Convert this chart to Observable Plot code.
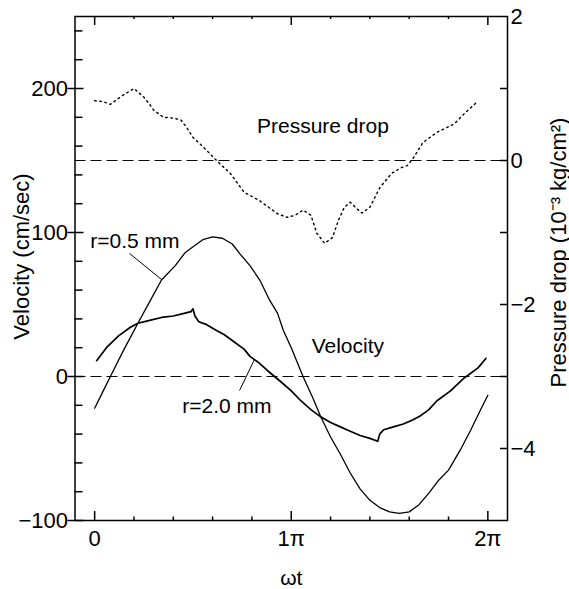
<!DOCTYPE html>
<html><head><meta charset="utf-8">
<script src="https://cdn.jsdelivr.net/npm/d3@7"></script>
<script src="https://cdn.jsdelivr.net/npm/@observablehq/plot@0.6"></script>
<style>
html,body{margin:0;padding:0;background:#fff;}
#chart{width:569px;height:589px;}
</style>
</head><body><div id="chart"></div>
<script>
// ωt in units of π
const t05 = [0, 0.04, 0.08, 0.15, 0.22, 0.28, 0.34, 0.41, 0.46, 0.49, 0.55, 0.60, 0.65, 0.70, 0.74, 0.79, 0.84, 0.89, 0.93, 0.96, 1.00, 1.06, 1.11, 1.15, 1.20, 1.25, 1.30, 1.35, 1.40, 1.45, 1.50, 1.55, 1.60, 1.65, 1.70, 1.75, 1.80, 1.86, 1.91, 1.96, 2.00];
const v05 = [-22, -11, 0, 19, 37, 52, 67, 77, 86, 89, 95, 97, 96, 92, 85, 77, 67, 53, 44, 32, 20, 0, -15, -28, -42, -54, -67, -78, -86, -91, -94, -95, -94, -89, -81, -72, -65, -51, -38, -24, -13];

const t20 = [0.01, 0.06, 0.12, 0.18, 0.22, 0.28, 0.34, 0.40, 0.46, 0.49, 0.50, 0.51, 0.53, 0.57, 0.62, 0.66, 0.71, 0.76, 0.79, 0.84, 0.88, 0.95, 1.00, 1.05, 1.10, 1.15, 1.20, 1.25, 1.30, 1.35, 1.40, 1.44, 1.45, 1.47, 1.52, 1.57, 1.62, 1.66, 1.70, 1.74, 1.81, 1.88, 1.95, 1.99];
const v20 = [11, 20, 28, 34, 37, 39, 41, 42, 44, 45, 47, 42, 38, 36, 32, 29, 24, 19, 14, 9, 4, -4, -10, -17, -23, -28, -32, -35, -38, -41, -43, -45, -40, -37, -35, -33, -30, -27, -23, -17, -10, -1, 6, 12.5];

const tP = [0.00, 0.04, 0.08, 0.14, 0.20, 0.25, 0.28, 0.30, 0.35, 0.40, 0.44, 0.47, 0.50, 0.54, 0.57, 0.62, 0.69, 0.76, 0.80, 0.84, 0.88, 0.93, 0.98, 1.02, 1.06, 1.10, 1.13, 1.17, 1.21, 1.24, 1.27, 1.30, 1.33, 1.36, 1.40, 1.45, 1.51, 1.56, 1.59, 1.62, 1.67, 1.74, 1.83, 1.88, 1.94];
const pDrop = [0.83, 0.82, 0.78, 0.90, 1.00, 0.88, 0.78, 0.70, 0.60, 0.59, 0.56, 0.45, 0.32, 0.22, 0.14, 0.00, -0.18, -0.44, -0.50, -0.56, -0.64, -0.74, -0.79, -0.76, -0.69, -0.76, -1.01, -1.15, -1.07, -0.83, -0.65, -0.58, -0.66, -0.73, -0.65, -0.38, -0.18, -0.10, -0.07, 0.03, 0.25, 0.39, 0.51, 0.65, 0.80];

const xTickValues = [0, 1, 2];
const xTickLabels = ["0", "1π", "2π"];
const xMinorTicks = [0.2, 0.4, 0.6, 0.8, 1.2, 1.4, 1.6, 1.8];
const vTickValues = [-100, 0, 100, 200];
const vMinorTicks = [-80, -60, -40, -20, 20, 40, 60, 80, 120, 140, 160, 180, 220, 240];
const pTickValues = [2, 0, -2, -4];
const pMinorTicks = [1, 0, -1, -2, -3, -4];

const annotations = [
  {x: 1.161, y: 174, text: "Pressure drop"},
  {x: 1.288, y: 21, text: "Velocity"},
  {x: 0.205, y: 94, text: "r=0.5 mm"},
  {x: 0.673, y: -21, text: "r=2.0 mm"}
];
const leaders = [
  {x1: 0.177, y1: 85.5, x2: 0.34, y2: 67.4},
  {x1: 0.737, y1: -9.7, x2: 0.813, y2: 11.8}
];

// secondary (pressure) axis mapped onto velocity units: p=0 -> 150, p=2 -> 250
const pToV = p => 150 + 50 * p;
const vToP = v => (v - 150) / 50;

const r05 = t05.map((t, i) => ({t, v: v05[i]}));
const r20 = t20.map((t, i) => ({t, v: v20[i]}));
const pres = tP.map((t, i) => ({t, v: pToV(pDrop[i])}));

const W = 569, H = 589;
const mL = 74.5, mR = 62, mT = 16, mB = 69;
const pw = W - mL - mR, ph = H - mT - mB;
const font = "'Liberation Sans', Arial, sans-serif";
const fmtInt = d3.format("d");
const tk = {stroke: "black", strokeWidth: 1.5};

const chart = Plot.plot({
  width: W, height: H,
  marginLeft: mL, marginRight: mR, marginTop: mT, marginBottom: mB,
  style: {fontFamily: font, background: "white", color: "black", overflow: "visible"},
  x: {domain: [-0.1, 2.1]},
  y: {domain: [-100, 250]},
  marks: [
    Plot.ruleY([0, pToV(0)], {stroke: "black", strokeWidth: 1.2, strokeDasharray: "11,5"}),
    Plot.line(pres, {x: "t", y: "v", stroke: "black", strokeWidth: 1.4, strokeDasharray: "1.6,3.6"}),
    Plot.line(r05, {x: "t", y: "v", stroke: "black", strokeWidth: 1.3}),
    Plot.line(r20, {x: "t", y: "v", stroke: "black", strokeWidth: 1.7}),
    Plot.link(leaders, {x1: "x1", y1: "y1", x2: "x2", y2: "y2", stroke: "black", strokeWidth: 1}),
    Plot.text(annotations, {x: "x", y: "y", text: "text", fontSize: 21, textAnchor: "middle", lineAnchor: "middle", fill: "black"}),
    Plot.frame({stroke: "black", strokeWidth: 1.5}),
    // left ticks (inward; labelled ones also poke out)
    Plot.tickY(vMinorTicks, {y: d => d, insetRight: pw - 8, ...tk}),
    Plot.tickY(vTickValues, {y: d => d, insetLeft: -7, insetRight: pw - 9, ...tk}),
    // right ticks (inward)
    Plot.tickY(pMinorTicks.map(pToV), {y: d => d, insetLeft: pw - 7, ...tk}),
    // bottom and top ticks (inward)
    Plot.tickX(xMinorTicks, {x: d => d, insetTop: ph - 3.5, ...tk}),
    Plot.tickX(xTickValues, {x: d => d, insetTop: ph - 9, ...tk}),
    Plot.tickX(xMinorTicks, {x: d => d, insetBottom: ph - 3, ...tk}),
    Plot.tickX(xTickValues, {x: d => d, insetBottom: ph - 9, ...tk}),
    // tick labels
    Plot.axisY(vTickValues, {anchor: "left", tickSize: 0, tickPadding: 7, fontSize: 22, label: null}),
    Plot.axisY(pTickValues.map(pToV), {anchor: "right", tickSize: 0, tickPadding: 3, fontSize: 22, label: null, tickFormat: v => fmtInt(vToP(v))}),
    Plot.axisX(xTickValues, {anchor: "bottom", tickSize: 0, tickPadding: 10, fontSize: 22, label: null, tickFormat: d => xTickLabels[xTickValues.indexOf(d)]}),
    // axis titles
    Plot.text(["Velocity (cm/sec)"], {frameAnchor: "left", rotate: -90, dx: -46.5, dy: -12, lineAnchor: "bottom", textAnchor: "middle", fontSize: 22, fill: "black"}),
    Plot.text(["Pressure drop (10⁻³ kg/cm²)"], {frameAnchor: "right", rotate: -90, dx: 58, dy: -16, lineAnchor: "bottom", textAnchor: "middle", fontSize: 22, fill: "black"}),
    Plot.text([{x: 1, label: "ωt"}], {x: "x", text: "label", frameAnchor: "bottom", dy: 58, lineAnchor: "middle", textAnchor: "middle", fontSize: 21, fill: "black"})
  ]
});
document.getElementById("chart").appendChild(chart);
</script>
</body></html>
